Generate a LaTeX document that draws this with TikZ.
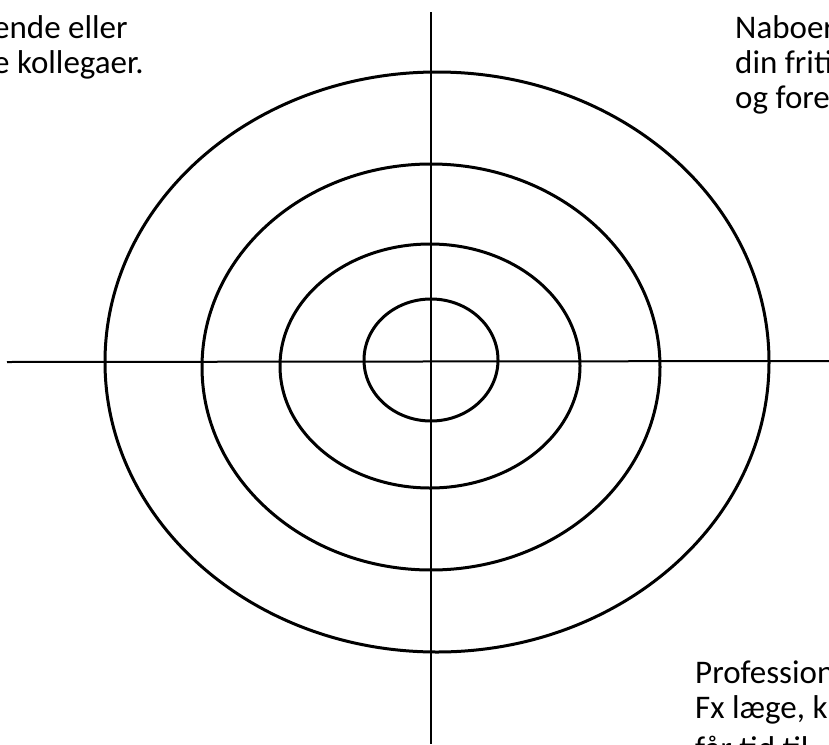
\documentclass[tikz,border=0pt]{standalone}
\usepackage{fontspec}
\setmainfont{Carlito}
\tikzset{
  ring/.style={draw=black, line width=3pt},
  axis/.style={draw=black, line width=2pt},
  note/.style={font=\fontsize{33}{35}\selectfont, align=left, inner sep=0pt, anchor=base west},
}
\begin{document}
\begin{tikzpicture}[x=1pt, y=-1pt]
\useasboundingbox (0,0) rectangle (829,744);
\clip (0,0) rectangle (829,744);
% axes
\coordinate (top)   at (431,12);
\coordinate (bot)   at (431,744);
\coordinate (left)  at (7,362);
\coordinate (right) at (829,361);
\draw[axis] (top) -- (bot);
\draw[axis] (left) -- (right);
% rings, outside in
\draw[ring] (437,362) ellipse [x radius=332, y radius=290];
\draw[ring] (431,367) ellipse [x radius=229, y radius=203];
\draw[ring] (430,366) ellipse [x radius=150, y radius=122];
\draw[ring] (431,360) ellipse [x radius=67,  y radius=61];
% notes (base = baseline of the last line)
\node[note] (kollegaer) at (-7,73)   {ende eller\\e kollegaer.};
\node[note] (naboer)    at (735,108) {Naboer\\din friti\\og fore};
\node[note] (prof)      at (695,759) {Profession\\Fx læge, k\\[6pt]får tid til};
\end{tikzpicture}
\end{document}
